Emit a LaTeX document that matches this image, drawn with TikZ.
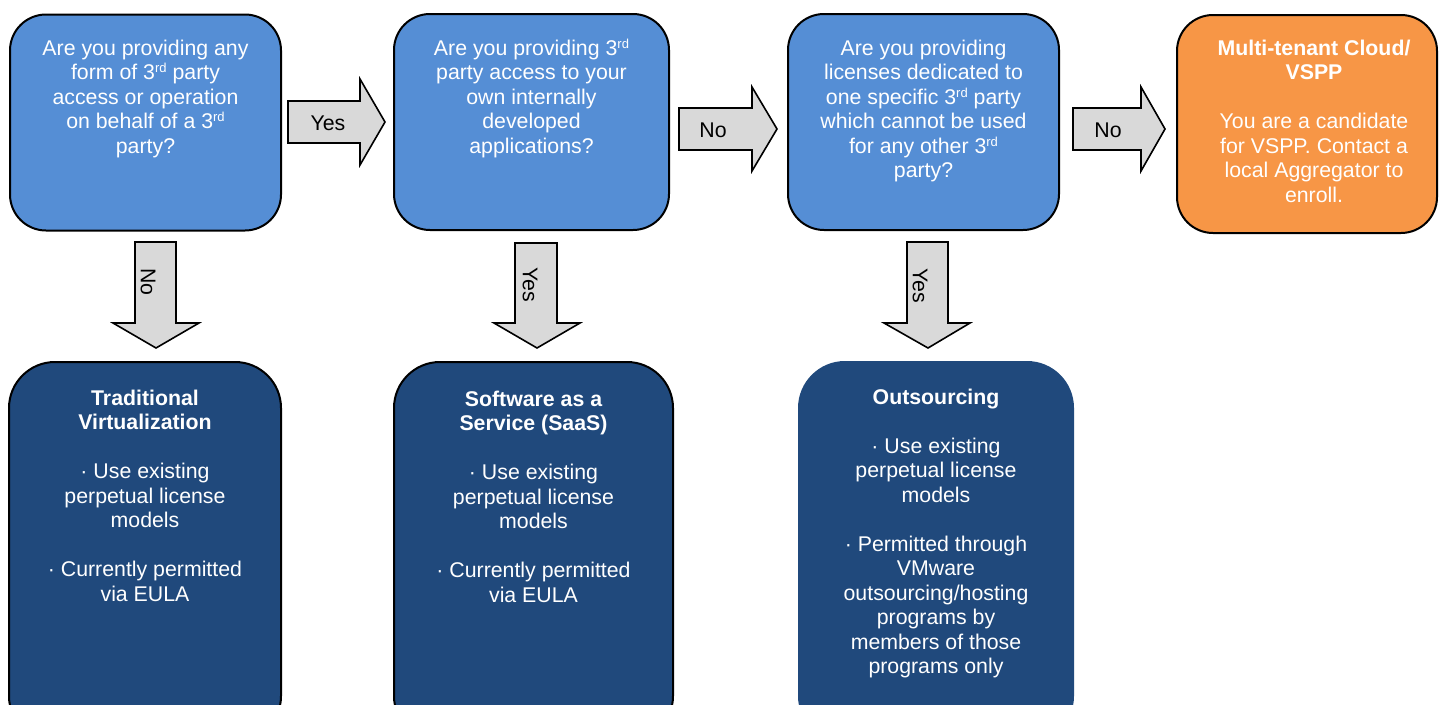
\documentclass[tikz,border=0pt]{standalone}
\usepackage{fontspec}
\setmainfont{Liberation Sans}
\newcommand\sps[1]{\raisebox{7.2pt}{\fontsize{13}{13}\selectfont #1}}
\newcommand\fst{\rule{0pt}{17pt}}
\definecolor{qblue}{RGB}{85,142,213}
\definecolor{rblue}{RGB}{32,73,124}
\definecolor{qorange}{RGB}{247,150,70}
\definecolor{agray}{RGB}{217,217,217}
\tikzset{
  qbox/.style={draw=black, line width=2pt, fill=qblue, rounded corners=36pt, inner sep=0pt},
  obox/.style={draw=black, line width=2pt, fill=qorange, rounded corners=36pt, inner sep=0pt},
  rbox/.style={draw=black, line width=2pt, fill=rblue, rounded corners=46pt, inner sep=0pt},
  rboxnb/.style={draw=rblue, line width=2pt, fill=rblue, rounded corners=46pt, inner sep=0pt},
  btxt/.style={text=white, align=center, inner sep=0pt, anchor=north, font=\fontsize{21.3}{24.5}\selectfont},
  blockarrow/.style={draw=black, line width=1.6pt, fill=agray, line join=miter},
  alabel/.style={text=black, inner sep=0pt, font=\fontsize{21.3}{24.5}\selectfont}
}
\begin{document}
\begin{tikzpicture}[x=1pt, y=-1pt]
\clip (0,0) rectangle (1439,704);
\fill[white] (0,0) rectangle (1439,704);

% top row boxes
\node[qbox, minimum width=271pt, minimum height=216pt] (q1) at (145.5,122.5) {};
\node[qbox, minimum width=275pt, minimum height=216pt] (q2) at (531.5,122) {};
\node[qbox, minimum width=271pt, minimum height=216pt] (q3) at (923.5,122) {};
\node[obox, minimum width=260pt, minimum height=218pt] (vspp) at (1307,124) {};

% bottom row boxes
\node[rbox, minimum width=272pt, minimum height=380pt] (tv) at (145,552) {};
\node[rbox, minimum width=279pt, minimum height=380pt] (saas) at (533.5,552) {};
\node[rboxnb, minimum width=274pt, minimum height=380pt] (outs) at (936,552) {};

% texts
\node[btxt] (q1t) at (145.5,38) {\fst Are you providing any\\form of 3\sps{rd} party\\access or operation\\on behalf of a 3\sps{rd}\\party?};
\node[btxt] (q2t) at (531.5,38) {\fst Are you providing 3\sps{rd}\\party access to your\\own internally\\developed\\applications?};
\node[btxt] (q3t) at (923.5,38) {\fst Are you providing\\licenses dedicated to\\one specific 3\sps{rd} party\\which cannot be used\\for any other 3\sps{rd}\\party?};
\node[btxt] (vsppt) at (1314,38) {\fst\bfseries Multi-tenant Cloud/\\\bfseries VSPP\\[24.5pt]You are a candidate\\for VSPP. Contact a\\local Aggregator to\\enroll.};
\node[btxt] (tvt) at (145,388) {\fst\bfseries Traditional\\\bfseries Virtualization\\[24.5pt]· Use existing\\perpetual license\\models\\[24.5pt]· Currently permitted\\via EULA};
\node[btxt] (saast) at (533.5,389) {\fst\bfseries Software as a\\\bfseries Service (SaaS)\\[24.5pt]· Use existing\\perpetual license\\models\\[24.5pt]· Currently permitted\\via EULA};
\node[btxt] (outst) at (936,387) {\fst\bfseries Outsourcing\\[24.5pt]· Use existing\\perpetual license\\models\\[24.5pt]· Permitted through\\VMware\\outsourcing/hosting\\programs by\\members of those\\programs only};

% horizontal block arrows
\draw[blockarrow] (288,101) -- (360,101) -- (360,79) -- (385,122) -- (360,165) -- (360,143) -- (288,143) -- cycle;
\node[alabel] (l1) at (328,123) {Yes};
\draw[blockarrow] (679,108) -- (752,108) -- (752,87) -- (777,129) -- (752,171) -- (752,150) -- (679,150) -- cycle;
\node[alabel] (l2) at (713,130) {No};
\draw[blockarrow] (1073,108) -- (1141,108) -- (1141,87) -- (1165,129) -- (1141,171) -- (1141,150) -- (1073,150) -- cycle;
\node[alabel] (l3) at (1108,130) {No};

% vertical block arrows
\draw[blockarrow] (135,242) -- (176,242) -- (176,323) -- (199,323) -- (156,348) -- (113,323) -- (135,323) -- cycle;
\node[alabel, rotate=-90] (l4) at (148,282) {No};
\draw[blockarrow] (515,243) -- (557,243) -- (557,323) -- (580,323) -- (537,348) -- (494,323) -- (515,323) -- cycle;
\node[alabel, rotate=-90] (l5) at (530,285) {Yes};
\draw[blockarrow] (907,242) -- (948,242) -- (948,323) -- (970,323) -- (928,348) -- (884,323) -- (907,323) -- cycle;
\node[alabel, rotate=-90] (l6) at (920,286) {Yes};
\end{tikzpicture}
\end{document}
